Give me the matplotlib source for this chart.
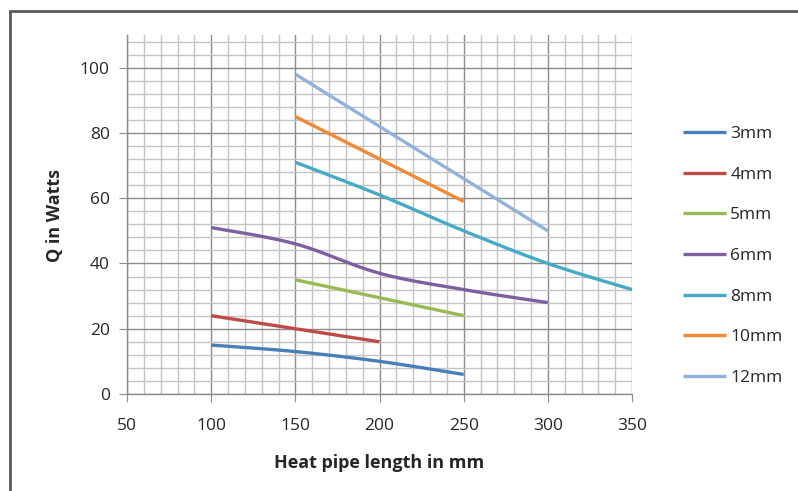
import numpy as np
import matplotlib
matplotlib.use("Agg")
import matplotlib.pyplot as plt
from matplotlib.patches import Rectangle
from matplotlib.ticker import MultipleLocator

# ---- data ----
labels = ["3mm", "4mm", "5mm", "6mm", "8mm", "10mm", "12mm"]
x_3mm = [100, 150, 200, 250]
y_3mm = [15, 13, 10, 6]
x_4mm = [100, 150, 200]
y_4mm = [24, 20, 16]
x_5mm = [150, 200, 250]
y_5mm = [35, 29.5, 24]
x_6mm = [100, 150, 200, 250, 300]
y_6mm = [51, 46, 37, 32, 28]
x_8mm = [150, 200, 250, 300, 350]
y_8mm = [71, 61, 50, 40, 32]
x_10mm = [150, 200, 250]
y_10mm = [85, 72, 59]
x_12mm = [150, 200, 250, 300]
y_12mm = [98, 82, 66, 50]

series_x = [x_3mm, x_4mm, x_5mm, x_6mm, x_8mm, x_10mm, x_12mm]
series_y = [y_3mm, y_4mm, y_5mm, y_6mm, y_8mm, y_10mm, y_12mm]
colors = ["#4A7EBB", "#BE4B48", "#98B954", "#7D60A0", "#46AAC5", "#F38A33", "#94B1DA"]

x_ticks = [50, 100, 150, 200, 250, 300, 350]
y_ticks = [0, 20, 40, 60, 80, 100]


def smooth(xs, ys, n=30):
    """Excel-style smoothed line (cubic Bezier through the points)."""
    P = np.column_stack([xs, ys]).astype(float)
    if len(P) < 3:
        return P[:, 0], P[:, 1]
    out = [P[0:1]]
    t = np.linspace(0, 1, n)[1:, None]
    for i in range(len(P) - 1):
        p0 = P[i - 1] if i > 0 else P[i]
        p1 = P[i]
        p2 = P[i + 1]
        p3 = P[i + 2] if i + 2 < len(P) else P[i + 1]
        c1 = p1 + (p2 - p0) / 6.0
        c2 = p2 - (p3 - p1) / 6.0
        b = ((1 - t) ** 3) * p1 + 3 * ((1 - t) ** 2) * t * c1 + 3 * (1 - t) * t ** 2 * c2 + t ** 3 * p2
        out.append(b)
    R = np.vstack(out)
    return R[:, 0], R[:, 1]


plt.rcParams['font.family'] = ['Open Sans', 'DejaVu Sans']

W, H = 798, 491
fig = plt.figure(figsize=(W / 100, H / 100), dpi=100)
ax = fig.add_axes([127 / W, 1 - 394 / H, (632 - 127) / W, (394 - 35) / H])

ax.set_xlim(50, 350)
ax.set_ylim(0, 110)
ax.xaxis.set_minor_locator(MultipleLocator(10))
ax.yaxis.set_minor_locator(MultipleLocator(4))
ax.set_xticks(x_ticks)
ax.set_yticks(y_ticks)

ax.grid(which='minor', color='#C4C4C4', linewidth=1.0)
ax.grid(which='major', color='#8C8C8C', linewidth=1.0)
ax.set_axisbelow(True)

for s in ['top', 'right']:
    ax.spines[s].set_visible(False)
for s in ['left', 'bottom']:
    ax.spines[s].set_color('#8C8C8C')
    ax.spines[s].set_linewidth(1.0)

ax.tick_params(which='major', direction='out', length=5.5, color='#8C8C8C', labelsize=12.5,
               labelcolor='#262626')
ax.tick_params(axis='y', pad=7)
ax.tick_params(axis='x', pad=11.5)
ax.tick_params(which='minor', length=0)

for xs, ys, c, lab in zip(series_x, series_y, colors, labels):
    sx, sy = smooth(xs, ys)
    ax.plot(sx, sy, color=c, linewidth=2.4, label=lab, solid_capstyle='butt')

fig.text(55 / W, 1 - 216 / H, "Q in Watts", rotation=90, fontsize=13, fontweight='bold',
         color='#262626', ha='center', va='center')
fig.text(379 / W, 1 - 463 / H, "Heat pipe length in mm", fontsize=13, fontweight='bold',
         color='#262626', ha='center', va='center')

leg = ax.legend(loc='upper left', bbox_to_anchor=(676 / W, 1 - 119 / H), bbox_transform=fig.transFigure,
                frameon=False, fontsize=12.5, handlelength=2.5, handletextpad=0.22,
                labelspacing=1.41, borderaxespad=0)
for t in leg.get_texts():
    t.set_color('#262626')

fig.patches.append(Rectangle((10 / W, -0.1), 1.2, 1 - 11 / H + 0.1, transform=fig.transFigure,
                             fill=False, edgecolor='#595959', linewidth=2.0, clip_on=False))

fig.savefig("out.png", dpi=100)
